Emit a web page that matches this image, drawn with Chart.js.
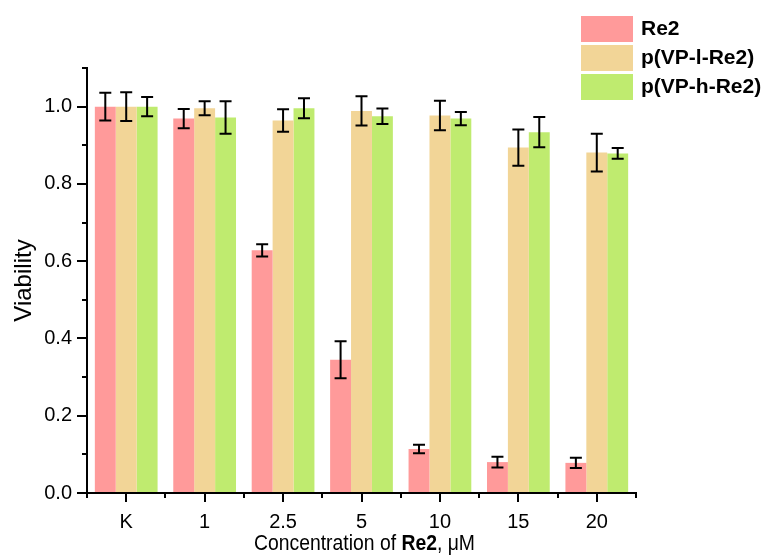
<!DOCTYPE html>
<html>
<head>
<meta charset="utf-8">
<script src="https://cdn.jsdelivr.net/npm/chart.js@4.4.1/dist/chart.umd.min.js"></script>
<style>
html, body { margin: 0; padding: 0; background: #fff; }
</style>
</head>
<body>
<canvas id="chart" width="774" height="557"></canvas>
<script>
// categories (Re2 concentration, uM)
const categories = ['K', '1', '2.5', '5', '10', '15', '20'];
const seriesNames = ['Re2', 'p(VP-l-Re2)', 'p(VP-h-Re2)'];
const seriesColors = ['#ff9a9a', '#f2d597', '#bfeb6f'];

// viability values and error (+/-)
const re2Values = [1.0, 0.969, 0.628, 0.345, 0.114, 0.080, 0.078];
const re2Errors = [0.036, 0.025, 0.016, 0.048, 0.011, 0.014, 0.013];
const vplValues = [1.0, 0.996, 0.964, 0.989, 0.977, 0.894, 0.881];
const vplErrors = [0.037, 0.018, 0.029, 0.038, 0.038, 0.047, 0.049];
const vphValues = [1.0, 0.972, 0.996, 0.975, 0.969, 0.934, 0.879];
const vphErrors = [0.025, 0.042, 0.026, 0.020, 0.017, 0.039, 0.014];

const yMinorTicks = [0.1, 0.3, 0.5, 0.7, 0.9, 1.1];

const FONT = 'Liberation Sans, Arial, sans-serif';

// error bars from the error arrays, using the y scale
const errorBarPlugin = {
    id: 'errorBars',
    afterDatasetsDraw(chart) {
        const ctx = chart.ctx;
        const yScale = chart.scales.y;
        ctx.save();
        ctx.strokeStyle = '#000';
        ctx.lineWidth = 2;
        chart.data.datasets.forEach((ds, i) => {
            const meta = chart.getDatasetMeta(i);
            meta.data.forEach((bar, j) => {
                const v = ds.data[j];
                const e = ds.errors[j];
                const yTop = yScale.getPixelForValue(v + e);
                const yBot = yScale.getPixelForValue(v - e);
                const cap = 6;
                ctx.beginPath();
                ctx.moveTo(bar.x, yTop);
                ctx.lineTo(bar.x, yBot);
                ctx.moveTo(bar.x - cap, yTop);
                ctx.lineTo(bar.x + cap, yTop);
                ctx.moveTo(bar.x - cap, yBot);
                ctx.lineTo(bar.x + cap, yBot);
                ctx.stroke();
            });
        });
        ctx.restore();
    }
};

// minor ticks, x title with bold Re2, and legend
const decorPlugin = {
    id: 'decor',
    afterDraw(chart) {
        const ctx = chart.ctx;
        const x = chart.scales.x;
        const y = chart.scales.y;
        const area = chart.chartArea;
        ctx.save();
        ctx.strokeStyle = '#000';
        ctx.lineWidth = 2;
        ctx.beginPath();
        yMinorTicks.forEach(v => {
            const py = Math.round(y.getPixelForValue(v));
            ctx.moveTo(area.left - 5, py);
            ctx.lineTo(area.left, py);
        });
        for (let i = 0; i <= categories.length; i++) {
            const px = Math.round(x.getPixelForValue(i - 0.5));
            ctx.moveTo(px, area.bottom);
            ctx.lineTo(px, area.bottom + 5);
        }
        ctx.stroke();

        // x axis title, a bit narrow like the original
        const parts = [
            ['Concentration of ', 'normal'],
            ['Re2', 'bold'],
            [', \u03bcM', 'normal']
        ];
        const squeeze = 0.88;
        let total = 0;
        parts.forEach(p => {
            ctx.font = p[1] + ' 22px ' + FONT;
            total += ctx.measureText(p[0]).width;
        });
        const cx = (area.left + area.right) / 2 + 3;
        ctx.save();
        ctx.translate(cx, 544);
        ctx.scale(squeeze, 1);
        let tx = -total / 2;
        ctx.fillStyle = '#000';
        ctx.textBaseline = 'middle';
        ctx.textAlign = 'left';
        parts.forEach(p => {
            ctx.font = p[1] + ' 22px ' + FONT;
            ctx.fillText(p[0], tx, 0);
            tx += ctx.measureText(p[0]).width;
        });
        ctx.restore();

        // legend
        ctx.textBaseline = 'middle';
        ctx.textAlign = 'left';
        chart.data.datasets.forEach((ds, i) => {
            const top = 16 + i * 29;
            ctx.fillStyle = ds.backgroundColor;
            ctx.fillRect(581, top, 52, 26);
            ctx.fillStyle = '#000';
            ctx.font = 'bold 21px ' + FONT;
            ctx.fillText(ds.label, 641, top + 13);
        });
        ctx.restore();
    }
};

new Chart(document.getElementById('chart'), {
    type: 'bar',
    data: {
        labels: categories,
        datasets: [
            { label: seriesNames[0], data: re2Values, errors: re2Errors, backgroundColor: seriesColors[0] },
            { label: seriesNames[1], data: vplValues, errors: vplErrors, backgroundColor: seriesColors[1] },
            { label: seriesNames[2], data: vphValues, errors: vphErrors, backgroundColor: seriesColors[2] }
        ]
    },
    options: {
        responsive: false,
        animation: false,
        devicePixelRatio: 1,
        categoryPercentage: 0.8,
        barPercentage: 1.0,
        layout: {
            padding: { top: 68, right: 138, left: 0, bottom: 0 }
        },
        plugins: {
            legend: { display: false },
            tooltip: { enabled: false }
        },
        scales: {
            x: {
                afterFit: s => { s.height = 64; },
                grid: {
                    offset: false,
                    drawOnChartArea: false,
                    drawTicks: true,
                    tickLength: 9,
                    color: '#000',
                    lineWidth: 2
                },
                border: { display: true, color: '#000', width: 2 },
                ticks: {
                    color: '#000',
                    padding: 8,
                    font: { family: FONT, size: 20 }
                }
            },
            y: {
                min: 0,
                max: 1.1,
                afterFit: s => { s.width = 87; },
                grid: {
                    drawOnChartArea: false,
                    drawTicks: true,
                    tickLength: 10,
                    color: '#000',
                    lineWidth: 2
                },
                border: { display: true, color: '#000', width: 2 },
                ticks: {
                    stepSize: 0.2,
                    includeBounds: false,
                    color: '#000',
                    padding: 5,
                    font: { family: FONT, size: 20 },
                    callback: v => v.toFixed(1)
                },
                title: {
                    display: true,
                    text: 'Viability',
                    color: '#000',
                    font: { family: FONT, size: 24 },
                    padding: { top: 10, bottom: 0 }
                }
            }
        }
    },
    plugins: [errorBarPlugin, decorPlugin]
});
</script>
</body>
</html>
